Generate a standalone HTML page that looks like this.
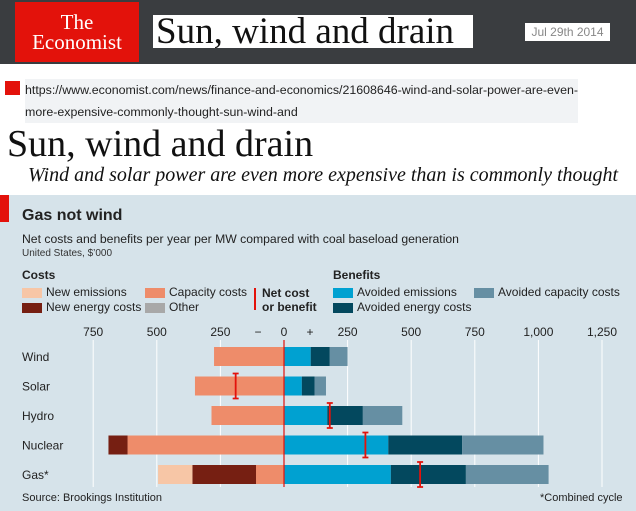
<!DOCTYPE html>
<html><head><meta charset="utf-8">
<style>
body{margin:0;width:636px;height:511px;position:relative;overflow:hidden;background:#fff;font-family:"Liberation Sans",sans-serif}
.a{position:absolute;white-space:nowrap}
.sw{position:absolute;width:20px;height:10px}
</style></head><body>
<div class="a" style="left:0;top:0;width:636px;height:64px;background:#3a3d40"></div>
<div class="a" style="left:15px;top:2px;width:124px;height:60px;background:#e3120b;color:#fff;font-family:'Liberation Serif',serif;font-size:21px;line-height:20px;text-align:center;padding-top:10px;box-sizing:border-box">The<br>Economist</div>
<div class="a" style="left:153px;top:15px;width:317px;height:33px;background:#fff;font-family:'Liberation Serif',serif;font-size:37px;line-height:33px;padding-left:3px;color:#111;overflow:hidden">Sun, wind and drain</div>
<div class="a" style="left:525px;top:23px;width:85px;height:18px;background:#fff;color:#888;font-size:12px;line-height:18px;text-align:center">Jul 29th 2014</div>
<div class="a" style="left:5px;top:81px;width:15px;height:14px;background:#e3120b"></div>
<div class="a" style="left:25px;top:79px;font-size:12.4px;line-height:22px;color:#222;background:#f1f3f5">https://www.economist.com/news/finance-and-economics/21608646-wind-and-solar-power-are-even-<br>more-expensive-commonly-thought-sun-wind-and</div>
<div class="a" style="left:7px;top:122px;font-family:'Liberation Serif',serif;font-size:38px;color:#111">Sun, wind and drain</div>
<div class="a" style="left:28px;top:164px;font-family:'Liberation Serif',serif;font-style:italic;font-size:20px;color:#111">Wind and solar power are even more expensive than is commonly thought</div>
<div class="a" style="left:0;top:195px;width:636px;height:316px;background:#d6e3ea"></div>
<div class="a" style="left:0;top:195px;width:9px;height:27px;background:#e3120b"></div>
<div class="a" style="left:22px;top:207px;font-size:16px;font-weight:bold;color:#222">Gas not wind</div>
<div class="a" style="left:22px;top:232px;font-size:12.2px;color:#222">Net costs and benefits per year per MW compared with coal baseload generation</div>
<div class="a" style="left:22px;top:248px;font-size:10px;color:#333">United States, $’000</div>
<div class="a" style="left:22px;top:268px;font-size:12px;font-weight:bold;color:#222">Costs</div>
<div class="a" style="left:333px;top:268px;font-size:12px;font-weight:bold;color:#222">Benefits</div>
<div style="font-size:12px;color:#222">
<div class="sw" style="left:22px;top:288px;background:#f7c6a6"></div><div class="a" style="left:46px;top:285px">New emissions</div>
<div class="sw" style="left:22px;top:303px;background:#761f12"></div><div class="a" style="left:46px;top:300px">New energy costs</div>
<div class="sw" style="left:145px;top:288px;background:#ee8c6a"></div><div class="a" style="left:169px;top:285px">Capacity costs</div>
<div class="sw" style="left:145px;top:303px;background:#a8a8a8"></div><div class="a" style="left:169px;top:300px">Other</div>
<div class="a" style="left:254px;top:288px;width:2px;height:22px;background:#e3120b"></div>
<div class="a" style="left:262px;top:286px;font-weight:bold;line-height:14px">Net cost<br>or benefit</div>
<div class="sw" style="left:333px;top:288px;background:#00a1d1"></div><div class="a" style="left:357px;top:285px">Avoided emissions</div>
<div class="sw" style="left:333px;top:303px;background:#03485e"></div><div class="a" style="left:357px;top:300px">Avoided energy costs</div>
<div class="sw" style="left:474px;top:288px;background:#668fa3"></div><div class="a" style="left:498px;top:285px">Avoided capacity costs</div>
</div>
<svg id="chart" class="a" style="left:0;top:0" width="636" height="511"></svg>
<div class="a" style="left:22px;top:492px;font-size:11px;color:#222">Source: Brookings Institution</div>
<div class="a" style="left:540px;top:492px;font-size:11px;color:#222">*Combined cycle</div>
<script>
const categories=["Wind","Solar","Hydro","Nuclear","Gas*"];
const newEmissions=[0,0,0,0,135];
const newEnergy=[0,0,0,75,250];
const capacityCosts=[275,350,285,615,110];
const avoidedEmissions=[105,70,170,410,420];
const avoidedEnergy=[75,50,140,290,295];
const avoidedCapacity=[70,45,155,320,325];
const netValues=[null,-190,180,320,535];
const tickValues=[-750,-500,-250,250,500,750,1000,1250];
const tickLabels=["750","500","250","250","500","750","1,000","1,250"];
const svg=document.getElementById('chart');
const NS='http://www.w3.org/2000/svg';
const x=v=>284+v*0.2544;
const rowY=i=>347+i*29.5;
const BH=19;
function mk(t,a){const e=document.createElementNS(NS,t);for(const k in a)e.setAttribute(k,a[k]);svg.appendChild(e);return e;}
tickValues.forEach((v,i)=>{
 const g=mk('line',{x1:x(v),x2:x(v),y1:340,y2:487,stroke:'#fff','stroke-width':1});
 
 
 const t=mk('text',{x:x(v),y:336,'text-anchor':'middle','font-size':12,fill:'#222','font-family':'Liberation Sans, sans-serif'});
 t.textContent=tickLabels[i];
 
 
});
[['−',258],['0',284],['+',310]].forEach(([s,px])=>{
 const t=mk('text',{x:px,y:336,'text-anchor':'middle','font-size':12,fill:'#222','font-family':'Liberation Sans, sans-serif'});
 t.textContent=s;
 
 
});
categories.forEach((c,i)=>{
 const y=rowY(i);
 const t=mk('text',{x:22,y:y+14,'font-size':12,fill:'#222','font-family':'Liberation Sans, sans-serif'});
 t.textContent=c;
 
 
 let neg=0;
 [[capacityCosts,'#ee8c6a'],[newEnergy,'#761f12'],[newEmissions,'#f7c6a6']].forEach(([arr,col])=>{
  const v=arr[i];if(!v)return;
  const r=mk('rect',{x:x(-(neg+v)),y:y,width:x(0)-x(-v),height:BH,fill:col});
  
  
  neg+=v;
 });
 let pos=0;
 [[avoidedEmissions,'#00a1d1'],[avoidedEnergy,'#03485e'],[avoidedCapacity,'#668fa3']].forEach(([arr,col])=>{
  const v=arr[i];if(!v)return;
  const r=mk('rect',{x:x(pos),y:y,width:x(v)-x(0),height:BH,fill:col});
  
  
  pos+=v;
 });
});
const zl=mk('line',{x1:x(0),x2:x(0),y1:340,y2:487,stroke:'#e3120b','stroke-width':1.2});


netValues.forEach((v,i)=>{
 if(v===null)return;
 const y=rowY(i),px=x(v);
 const g=mk('path',{d:`M${px},${y-3}V${y+BH+3}M${px-3},${y-3}H${px+3}M${px-3},${y+BH+3}H${px+3}`,stroke:'#e3120b','stroke-width':1.8,fill:'none'});
 
 
});
</script>
</body></html>
